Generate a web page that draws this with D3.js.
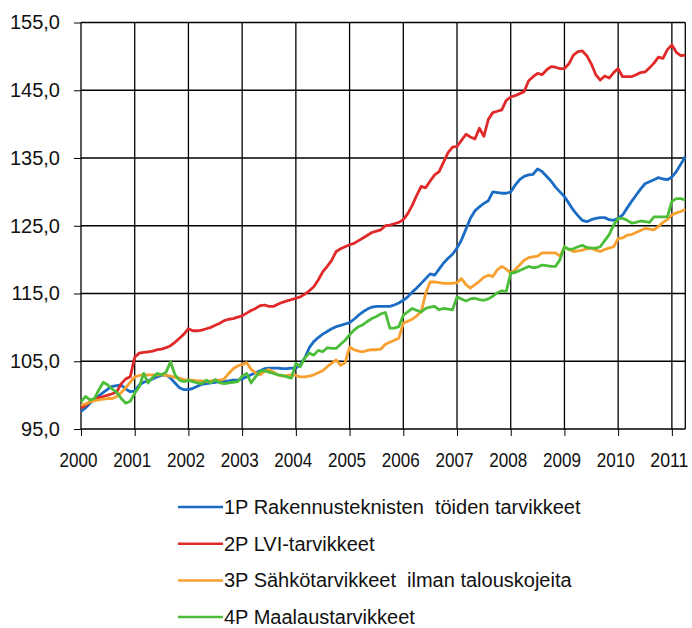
<!DOCTYPE html>
<html>
<head>
<meta charset="utf-8">
<script src="https://d3js.org/d3.v7.min.js"></script>
<style>
  body { margin: 0; background: #fff; }
  svg { display: block; }
  text { font-family: "Liberation Sans", Arial, sans-serif; fill: #111; }
</style>
</head>
<body>
<svg id="chart"></svg>
<script>
// tick labels
var years = ["2000","2001","2002","2003","2004","2005","2006","2007","2008","2009","2010","2011"];
var yTicks = [95, 105, 115, 125, 135, 145, 155];

// series names
var seriesNames = [
  "1P Rakennusteknisten  töiden tarvikkeet",
  "2P LVI-tarvikkeet",
  "3P Sähkötarvikkeet  ilman talouskojeita",
  "4P Maalaustarvikkeet"
];

// monthly values, Jan 2000 .. Apr 2011 (one row per year)
var s1 = [
  97.6, 98.1, 98.8, 99.4, 99.9, 100.4, 100.9, 101.3, 101.4, 101.5, 100.9, 100.5,
  100.6, 101.5, 101.9, 102.1, 102.4, 102.7, 102.9, 103.0, 102.5, 101.8, 101.1, 100.8,
  100.8, 101.0, 101.3, 101.6, 101.7, 101.8, 101.9, 102.0, 102.0, 102.1, 102.2, 102.2,
  102.4, 102.7, 103.0, 103.3, 103.6, 103.9, 104.0, 104.0, 104.0, 103.9, 103.9, 104.0,
  104.0, 104.5, 105.5, 107.0, 107.9, 108.5, 109.0, 109.4, 109.8, 110.1, 110.3, 110.5,
  110.7, 111.2, 111.8, 112.3, 112.7, 113.0, 113.1, 113.1, 113.1, 113.1, 113.3, 113.6,
  114.0, 114.5, 115.2, 115.8, 116.5, 117.2, 117.9, 117.7, 118.6, 119.5, 120.2, 120.8,
  121.7, 122.9, 124.5, 126.1, 127.2, 127.8, 128.3, 128.7, 130.0, 129.9, 129.8, 129.8,
  130.0, 131.0, 131.8, 132.3, 132.5, 132.6, 133.4, 133.0, 132.3, 131.6, 130.7, 130.0,
  129.3, 128.3, 127.3, 126.5, 125.8, 125.6, 125.9, 126.1, 126.2, 126.2, 125.9, 125.8,
  126.1, 126.6, 127.6, 128.6, 129.5, 130.4, 131.2, 131.5, 131.8, 132.1, 131.9, 131.8,
  132.2, 133.0, 134.1, 135.2
];
var s2 = [
  98.1, 98.5, 99.0, 99.4, 99.6, 99.8, 100.0, 100.2, 100.5, 101.7, 102.4, 102.7,
  105.6, 106.2, 106.3, 106.4, 106.5, 106.7, 106.8, 107.0, 107.3, 107.8, 108.4, 109.0,
  109.8, 109.5, 109.5, 109.6, 109.8, 110.0, 110.3, 110.6, 111.0, 111.2, 111.3, 111.5,
  111.7, 112.1, 112.5, 112.8, 113.2, 113.3, 113.1, 113.1, 113.4, 113.7, 113.9, 114.1,
  114.3, 114.5, 114.9, 115.4, 116.0, 117.0, 118.2, 119.0, 119.9, 121.2, 121.6, 121.9,
  122.2, 122.4, 122.8, 123.2, 123.6, 124.0, 124.2, 124.4, 125.0, 125.1, 125.3, 125.5,
  125.9, 126.8, 128.0, 129.5, 130.8, 130.6, 131.6, 132.5, 133.0, 134.4, 135.8, 136.6,
  136.7, 137.6, 138.5, 138.1, 137.8, 139.4, 138.2, 140.7, 141.7, 141.9, 142.1, 143.5,
  144.0, 144.2, 144.5, 144.8, 146.4, 147.0, 147.5, 147.3, 148.0, 148.5, 148.4, 148.2,
  148.2, 148.9, 150.2, 150.7, 150.8, 150.1, 148.9, 147.3, 146.5, 147.1, 146.8, 147.6,
  148.2, 147.0, 147.0, 147.0, 147.3, 147.6, 147.7, 148.3, 149.0, 149.9, 149.7, 151.0,
  151.7, 150.6, 150.1, 150.2
];
var s3 = [
  98.5, 98.7, 99.0, 99.2, 99.3, 99.4, 99.5, 99.5, 99.8, 100.4, 101.1, 101.9,
  102.7, 102.9, 103.0, 103.0, 103.0, 103.0, 103.0, 102.9, 102.8, 102.6, 102.5, 102.3,
  102.2, 102.2, 102.1, 102.1, 102.0, 102.1, 102.2, 102.2, 102.4, 103.2, 103.9, 104.3,
  104.5, 104.8, 103.8, 103.3, 103.0, 103.5, 103.8, 103.4, 103.0, 102.8, 102.9, 103.0,
  102.9, 102.7, 102.7, 102.8, 103.0, 103.3, 103.6, 104.2, 104.7, 105.2, 104.4, 104.8,
  107.1, 106.7, 106.5, 106.4, 106.6, 106.7, 106.7, 106.8, 107.5, 107.8, 108.1, 108.4,
  110.6, 110.9, 111.2, 111.7, 112.3, 115.0, 116.7, 116.7, 116.6, 116.5, 116.5, 116.5,
  116.6, 117.2, 116.3, 115.8, 116.3, 116.8, 117.4, 117.7, 117.5, 118.5, 119.0, 118.6,
  118.0, 118.5, 119.2, 119.9, 120.3, 120.4, 120.5, 121.0, 121.0, 121.0, 121.0, 120.5,
  121.9, 121.5, 121.2, 121.3, 121.4, 121.6, 121.7, 121.4, 121.2, 121.5, 121.7, 121.9,
  123.1, 123.2, 123.6, 123.7, 124.0, 124.3, 124.6, 124.5, 124.4, 124.9, 125.5, 125.9,
  126.6, 126.9, 127.1, 127.4
];
var s4 = [
  99.0, 99.8, 99.3, 99.5, 100.8, 101.9, 101.5, 100.9, 100.4, 99.5, 98.8, 99.1,
  100.3, 101.2, 103.2, 101.8, 102.6, 103.2, 103.0, 103.4, 104.9, 103.0, 102.2, 102.0,
  102.2, 102.0, 101.8, 101.7, 102.2, 101.8, 102.3, 101.8, 101.7, 101.8, 101.9, 102.0,
  102.8, 103.2, 101.8, 102.7, 103.5, 103.6, 103.4, 103.2, 103.0, 102.9, 102.7, 102.5,
  104.7, 104.2, 105.5, 106.2, 105.9, 106.6, 106.4, 107.0, 106.9, 106.9, 107.5, 108.1,
  108.9, 109.6, 110.1, 110.4, 110.9, 111.3, 111.6, 112.0, 112.2, 109.9, 109.9, 110.1,
  111.8, 112.3, 112.8, 112.5, 112.3, 112.8, 113.0, 113.1, 112.6, 112.8, 112.7, 112.6,
  114.5, 114.2, 113.9, 114.2, 114.3, 114.1, 114.0, 114.2, 114.6, 115.1, 115.4, 115.3,
  118.0, 118.1, 118.4, 118.7, 119.0, 118.8, 118.9, 119.2, 119.1, 119.0, 119.0, 120.0,
  121.9, 121.5, 121.6, 121.9, 122.1, 121.8, 121.7, 121.7, 121.9, 122.8, 123.7, 125.1,
  126.1, 126.1, 125.8, 125.4, 125.5, 125.7, 125.6, 125.5, 126.3, 126.3, 126.3, 126.3,
  128.6, 129.0, 129.0, 128.8
];

var colors = ["#1b6cc4", "#e02a2a", "#f7a030", "#4bbd38"];
var seriesData = [s1, s2, s3, s4];

var W = 692, H = 628;
var margin = {top: 22.5, right: 6.7, bottom: 199, left: 81};
var width = W - margin.left - margin.right,
    height = H - margin.top - margin.bottom;

var svg = d3.select("#chart").attr("width", W).attr("height", H);
var g = svg.append("g")
  .attr("transform", "translate(" + margin.left + "," + margin.top + ")");

var x = d3.scaleLinear().domain([0, s1.length - 1]).range([0, width]);
var y = d3.scaleLinear().domain([95, 155]).range([height, 0]);

// horizontal grid + y axis
var yAxis = d3.axisLeft(y).tickValues(yTicks).tickSize(7).tickPadding(14)
  .tickFormat(function(d){ return d3.format(".1f")(d).replace(".", ","); });
var gy = g.append("g").call(yAxis);
gy.select(".domain").remove();
gy.selectAll(".tick line").attr("stroke", "#000");
gy.selectAll(".tick text").style("font-size", "20px").attr("fill", "#111");
g.append("g").selectAll("line").data(yTicks).join("line")
  .attr("x1", 0).attr("x2", width)
  .attr("y1", function(d){ return y(d); }).attr("y2", function(d){ return y(d); })
  .attr("stroke", "#000").attr("stroke-width", 1.3);

// vertical grid + x axis
var yearIdx = years.map(function(d, i){ return i * 12; });
g.append("g").selectAll("line").data(yearIdx).join("line")
  .attr("x1", function(d){ return x(d); }).attr("x2", function(d){ return x(d); })
  .attr("y1", 0).attr("y2", height)
  .attr("stroke", "#000").attr("stroke-width", 1.3);
g.append("line")
  .attr("x1", width).attr("x2", width).attr("y1", 0).attr("y2", height)
  .attr("stroke", "#000").attr("stroke-width", 1.3);

var xAxis = d3.axisBottom(x).tickValues(yearIdx).tickSize(7).tickPadding(17)
  .tickFormat(function(d, i){ return years[i]; });
var gx = g.append("g").attr("transform", "translate(0," + height + ")").call(xAxis);
gx.select(".domain").remove();
gx.selectAll(".tick line").attr("stroke", "#000");
// labels are a bit condensed in the original
gx.selectAll(".tick text")
  .style("font-size", "20px").attr("fill", "#111")
  .attr("dx", -3)
  .attr("textLength", 38).attr("lengthAdjust", "spacingAndGlyphs");

// lines
var line = d3.line()
  .x(function(d, i){ return x(i); })
  .y(function(d){ return y(d); });

seriesData.forEach(function(s, k){
  g.append("path")
    .datum(s)
    .attr("fill", "none")
    .attr("stroke", colors[k])
    .attr("stroke-width", 2.8)
    .attr("stroke-linejoin", "round")
    .attr("d", line);
});

// legend
var legend = svg.append("g").attr("transform", "translate(178,507)");
var item = legend.selectAll("g").data(seriesNames).join("g")
  .attr("transform", function(d, i){ return "translate(0," + (i * 36.7) + ")"; });
item.append("line")
  .attr("x1", 0).attr("x2", 45).attr("y1", 0).attr("y2", 0)
  .attr("stroke", function(d, i){ return colors[i]; })
  .attr("stroke-width", 2.5);
item.append("text")
  .attr("x", 46).attr("y", 7)
  .style("font-size", "20px")
  .style("white-space", "pre")
  .text(function(d){ return d; });
</script>
</body>
</html>
